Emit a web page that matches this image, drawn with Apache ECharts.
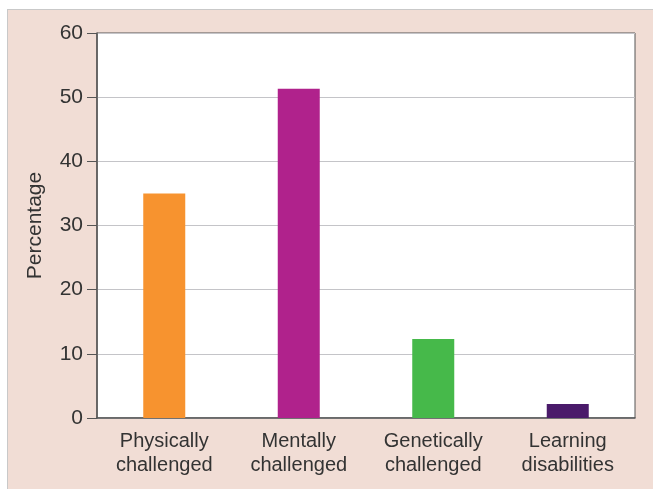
<!DOCTYPE html>
<html><head><meta charset="utf-8">
<script src="https://cdn.jsdelivr.net/npm/echarts@6/dist/echarts.min.js"></script>
<style>
html,body{margin:0;padding:0;background:#fff;}
#frame{position:absolute;left:7px;top:9px;width:646px;height:480px;background:#F1DDD5;border-left:1px solid #c9c9c9;border-top:1px solid #c9c9c9;box-sizing:border-box;}
#chart{position:absolute;left:0;top:0;width:653px;height:489px;}
</style></head>
<body>
<div id="frame"></div>
<div id="chart"></div>
<script>
const categories = ['Physically\nchallenged','Mentally\nchallenged','Genetically\nchallenged','Learning\ndisabilities'];
const values = [35, 51.3, 12.3, 2.2];
const barColors = ['#F7932F','#B0228C','#46B94A','#4A1A6A'];
const yTicks = [0,10,20,30,40,50,60];

const chart = echarts.init(document.getElementById('chart'), null, {renderer:'canvas'});
chart.setOption({
  backgroundColor:'transparent',
  animation:false,
  grid:{left:97, top:33, right:18, bottom:71, show:true, backgroundColor:'#fff', borderColor:'#555', borderWidth:1},
  xAxis:{type:'category', data:categories,
    axisLine:{lineStyle:{color:'#555', width:1.5}},
    axisTick:{show:false},
    axisLabel:{color:'#333', fontSize:20, fontFamily:'Liberation Sans, Arial', lineHeight:24, margin:11}
  },
  yAxis:{type:'value', min:yTicks[0], max:yTicks[yTicks.length-1], interval:10,
    name:'Percentage', nameLocation:'middle', nameGap:51, nameRotate:90,
    nameTextStyle:{color:'#333', fontSize:21, fontFamily:'Liberation Sans, Arial'},
    axisLine:{show:true, lineStyle:{color:'#555', width:1.5}},
    axisTick:{show:true, length:10, lineStyle:{color:'#555'}},
    axisLabel:{color:'#333', fontSize:21, fontFamily:'Liberation Sans, Arial', margin:14},
    splitLine:{lineStyle:{color:'#c4c4c8', width:1}}
  },
  series:[{type:'bar', barWidth:42,
    data: values.map((v,i)=>({value:v, itemStyle:{color:barColors[i]}}))
  }]
});
</script>
</body></html>
